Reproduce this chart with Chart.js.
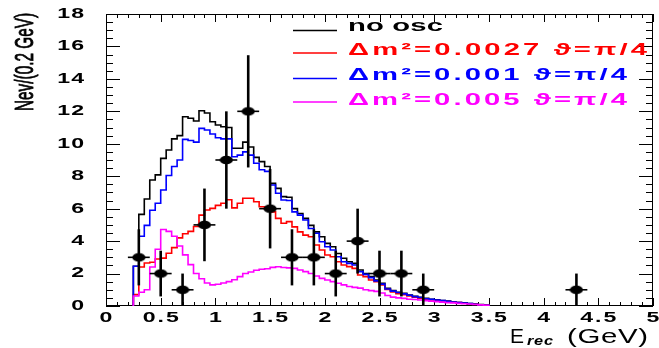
<!DOCTYPE html>
<html lang="en">
<head>
<meta charset="UTF-8">
<title>Nev vs Erec</title>
<script src="https://cdn.jsdelivr.net/npm/chart.js@4.4.1/dist/chart.umd.min.js"></script>
<style>
    body { margin: 0; padding: 0; background: #fff; }
    #wrap { width: 659px; height: 348px; position: relative; }
</style>
</head>
<body>
<div id="wrap"><canvas id="chart"></canvas></div>
<script>
// bin edges of the MC histograms (GeV)
const binEdges = [0.25, 0.30, 0.35, 0.40, 0.45, 0.50, 0.55, 0.60, 0.65, 0.70, 0.75, 0.80, 0.85,
    0.90, 0.95, 1.00, 1.05, 1.10, 1.15, 1.20, 1.25, 1.30, 1.35, 1.40, 1.45, 1.50,
    1.55, 1.60, 1.65, 1.70, 1.75, 1.80, 1.85, 1.90, 1.95, 2.00, 2.05, 2.10, 2.15,
    2.20, 2.25, 2.30, 2.35, 2.40, 2.45, 2.50, 2.55, 2.60, 2.65, 2.70, 2.75, 2.80,
    2.85, 2.90, 2.95, 3.00, 3.05, 3.10, 3.15, 3.20, 3.25, 3.30, 3.35, 3.40, 3.45, 3.50];

const noOsc = [2.45, 5.65, 6.6, 7.77, 8.08, 9.1, 9.62, 10.3, 10.5, 11.67, 11.57, 11.4, 12.04,
    11.9, 11.36, 11.16, 11.05, 11.0, 9.72, 9.72, 10.1, 9.8, 9.16, 8.9, 8.6, 7.56,
    7.25, 6.74, 6.7, 6.0, 5.7, 5.4, 4.97, 4.57, 4.27, 3.86, 3.65, 3.24, 2.94,
    2.73, 2.63, 2.22, 2.0, 1.81, 1.6, 1.4, 1.09, 0.95, 0.85, 0.78, 0.68, 0.6,
    0.54, 0.47, 0.42, 0.38, 0.34, 0.3, 0.26, 0.22, 0.19, 0.15, 0.12, 0.09, 0.06];

const osc0027 = [0.7, 2.4, 2.65, 2.7, 2.9, 2.95, 3.25, 3.6, 4.2, 4.45, 4.6, 4.9, 5.6,
    5.92, 6.02, 6.2, 6.33, 6.55, 6.05, 6.33, 6.64, 6.64, 6.43, 6.12, 6.02, 5.8,
    5.4, 5.1, 5.2, 4.88, 4.57, 4.37, 4.27, 3.76, 3.45, 3.14, 3.04, 2.73, 2.53,
    2.43, 2.32, 1.91, 1.81, 1.6, 1.5, 1.3, 1.02, 0.86, 0.76, 0.7, 0.62, 0.55,
    0.48, 0.42, 0.38, 0.34, 0.31, 0.27, 0.24, 0.21, 0.17, 0.14, 0.11, 0.08, 0.05];

const osc001 = [2.45, 4.3, 4.97, 5.9, 6.33, 7.15, 8.04, 8.6, 9.0, 10.27, 10.2, 10.1, 10.95,
    10.85, 10.6, 10.37, 10.3, 10.3, 9.2, 9.3, 9.5, 9.3, 8.8, 8.4, 8.3, 7.46,
    6.95, 6.53, 6.5, 5.8, 5.6, 5.3, 4.78, 4.48, 3.96, 3.65, 3.45, 3.04, 2.73,
    2.63, 2.53, 2.12, 1.95, 1.75, 1.55, 1.35, 1.05, 0.92, 0.83, 0.75, 0.66, 0.58,
    0.52, 0.45, 0.41, 0.37, 0.33, 0.29, 0.25, 0.22, 0.18, 0.15, 0.11, 0.08, 0.05];

const osc005 = [0.62, 0.85, 1.0, 2.4, 3.5, 4.72, 4.6, 4.3, 3.7, 3.15, 2.55, 2.0, 1.68,
    1.42, 1.3, 1.34, 1.42, 1.5, 1.62, 1.81, 2.0, 2.1, 2.2, 2.27, 2.3, 2.38,
    2.42, 2.37, 2.35, 2.32, 2.22, 2.12, 2.0, 1.85, 1.7, 1.6, 1.5, 1.4, 1.3,
    1.2, 1.15, 1.1, 1.0, 0.95, 0.9, 0.8, 0.65, 0.55, 0.5, 0.47, 0.42, 0.4,
    0.37, 0.33, 0.3, 0.27, 0.24, 0.21, 0.19, 0.16, 0.14, 0.12, 0.09, 0.07, 0.05];

// measured events with errors
const dataX    = [0.3, 0.5, 0.7, 0.9, 1.1, 1.3, 1.5, 1.7, 1.9, 2.1, 2.3, 2.5, 2.7, 2.9, 4.3];
const dataY    = [3, 2, 1, 5, 9, 12, 6, 3, 3, 2, 4, 2, 2, 1, 1];
const dataErrY = [1.73, 1.41, 1, 2.24, 3, 3.46, 2.45, 1.73, 1.73, 1.41, 2, 1.41, 1.41, 1, 1];
const dataErrX = [0.1, 0.1, 0.1, 0.1, 0.1, 0.1, 0.1, 0.1, 0.1, 0.1, 0.1, 0.1, 0.1, 0.1, 0.1];

const xTickValues = [0, 0.5, 1, 1.5, 2, 2.5, 3, 3.5, 4, 4.5, 5];
const xTickLabels = ['0', '0.5', '1', '1.5', '2', '2.5', '3', '3.5', '4', '4.5', '5'];
const yTickValues = [0, 2, 4, 6, 8, 10, 12, 14, 16, 18];

const legendLabels = ['no osc', 'Δm²=0.0027 ϑ=π/4', 'Δm²=0.001 ϑ=π/4', 'Δm²=0.005 ϑ=π/4'];
const legendColors = ['#000000', '#ff0000', '#0000ff', '#ff00ff'];

// histogram -> step points (value holds until next edge)
function histPoints(vals) {
    const pts = [{x: binEdges[0], y: 0}];
    vals.forEach((v, i) => pts.push({x: binEdges[i], y: v}));
    pts.push({x: binEdges[vals.length], y: vals[vals.length - 1]});
    pts.push({x: binEdges[vals.length], y: 0});
    return pts;
}

// filled ellipse marker like the ROOT one
const marker = document.createElement('canvas');
marker.width = 14;
marker.height = 10;
const mctx = marker.getContext('2d');
mctx.fillStyle = '#000';
mctx.beginPath();
mctx.ellipse(7, 5, 6.6, 4.3, 0, 0, 2 * Math.PI);
mctx.fill();

// text helpers (ROOT fonts are wide, so glyphs get stretched)
function drawWide(ctx, text, x, y, sx, gap, align) {
    const chars = [...text];
    const ws = chars.map(ch => ctx.measureText(ch).width * sx);
    const total = ws.reduce((s, w) => s + w, 0) + gap * (chars.length - 1);
    let cx = align === 'center' ? x - total / 2 : align === 'right' ? x - total : x;
    chars.forEach((ch, i) => {
        ctx.save();
        ctx.translate(cx, y);
        ctx.scale(sx, 1);
        ctx.fillText(ch, 0, 0);
        ctx.restore();
        cx += ws[i] + gap;
    });
}

function drawFit(ctx, text, x, y, width, sx) {
    const chars = [...text];
    const natural = chars.reduce((s, ch) => s + ctx.measureText(ch).width * sx, 0);
    const gap = (width - natural) / (chars.length - 1);
    drawWide(ctx, text, x, y, sx, gap, 'left');
}

function drawStretch(ctx, text, x, y, width, thick) {
    const sx = width / ctx.measureText(text).width;
    ctx.save();
    ctx.translate(x, y);
    ctx.scale(sx, 1);
    ctx.fillText(text, 0, 0);
    if (thick) {
        ctx.lineWidth = thick;
        ctx.strokeStyle = ctx.fillStyle;
        ctx.strokeText(text, 0, 0);
    }
    ctx.restore();
}

const frame = {
    id: 'frame',
    beforeDatasetsDraw(chart) {
        const {ctx, chartArea: a, scales: {x, y}} = chart;
        ctx.save();
        ctx.strokeStyle = '#000';
        ctx.lineWidth = 1;
        ctx.strokeRect(a.left + 0.5, a.top + 0.5, a.right - a.left - 1, a.bottom - a.top - 1);

        ctx.beginPath();
        for (let k = 0; k <= 50; k++) {
            const px = Math.round(x.getPixelForValue(k / 10)) + 0.5;
            const len = k % 5 === 0 ? 8 : 4;
            ctx.moveTo(px, a.bottom); ctx.lineTo(px, a.bottom - len);
            ctx.moveTo(px, a.top); ctx.lineTo(px, a.top + len);
        }
        for (let k = 0; k <= 36; k++) {
            const py = Math.round(y.getPixelForValue(k / 2)) + 0.5;
            const len = k % 4 === 0 ? 14 : 7;
            ctx.moveTo(a.left, py); ctx.lineTo(a.left + len, py);
            ctx.moveTo(a.right, py); ctx.lineTo(a.right - len, py);
        }
        ctx.stroke();

        // tick labels
        ctx.fillStyle = '#000';
        ctx.textAlign = 'left';
        ctx.font = 'bold 14px "Liberation Sans", Arial, sans-serif';
        ctx.textBaseline = 'alphabetic';
        xTickValues.forEach((v, i) => {
            drawWide(ctx, xTickLabels[i], x.getPixelForValue(v), a.bottom + 16, 1.65, 2, 'center');
        });
        ctx.textBaseline = 'middle';
        yTickValues.forEach(v => {
            drawWide(ctx, String(v), 84, y.getPixelForValue(v), 1.65, 1, 'right');
        });

        // y title
        ctx.textBaseline = 'alphabetic';
        ctx.font = '26px "Liberation Sans Narrow", "Liberation Sans", Arial, sans-serif';
        ctx.save();
        ctx.translate(33, 111);
        ctx.rotate(-Math.PI / 2);
        drawStretch(ctx, 'Nev/(0.2 GeV)', 0, 0, 98, 0.9);
        ctx.restore();

        // x title  E_rec (GeV)
        ctx.font = '21px "Liberation Sans", Arial, sans-serif';
        drawStretch(ctx, 'E', 510, 343, 14);
        ctx.font = 'bold italic 13px "Liberation Sans", Arial, sans-serif';
        drawFit(ctx, 'rec', 527, 345, 26, 1.25);
        ctx.font = '21px "Liberation Sans", Arial, sans-serif';
        drawFit(ctx, '(GeV)', 567, 343, 81, 1.4);

        // legend
        const rows = [31, 55, 80, 104.5];
        const lines = [30.5, 53, 78.5, 102];
        const widths = [95, 299, 279, 279];
        ctx.font = 'bold 17px "Liberation Sans", Arial, sans-serif';
        legendLabels.forEach((lab, i) => {
            ctx.strokeStyle = legendColors[i];
            ctx.lineWidth = 1.5;
            ctx.beginPath();
            ctx.moveTo(293, lines[i]);
            ctx.lineTo(337, lines[i]);
            ctx.stroke();
            ctx.fillStyle = legendColors[i];
            drawFit(ctx, lab, 348, rows[i], widths[i], 1.72);
        });
        ctx.restore();
    }
};

const errorBars = {
    id: 'errorBars',
    afterDatasetsDraw(chart) {
        const {ctx, scales: {x, y}} = chart;
        ctx.save();
        ctx.strokeStyle = '#000';
        dataX.forEach((xv, i) => {
            const px = x.getPixelForValue(xv);
            const py = y.getPixelForValue(dataY[i]);
            ctx.lineWidth = 2.6;
            ctx.beginPath();
            ctx.moveTo(px, y.getPixelForValue(Math.max(0, dataY[i] - dataErrY[i])));
            ctx.lineTo(px, y.getPixelForValue(dataY[i] + dataErrY[i]));
            ctx.stroke();
            ctx.lineWidth = 1.6;
            ctx.beginPath();
            ctx.moveTo(x.getPixelForValue(xv - dataErrX[i]), py);
            ctx.lineTo(x.getPixelForValue(xv + dataErrX[i]), py);
            ctx.stroke();
        });
        ctx.restore();
    }
};

function histDataset(vals, color, order) {
    return {
        type: 'line',
        data: histPoints(vals),
        borderColor: color,
        borderWidth: 1.6,
        pointRadius: 0,
        fill: false,
        stepped: 'before',
        order: order
    };
}

new Chart(document.getElementById('chart'), {
    data: {
        datasets: [
            {
                type: 'scatter',
                data: dataX.map((xv, i) => ({x: xv, y: dataY[i]})),
                pointStyle: marker,
                pointRadius: 5,
                order: 0
            },
            histDataset(osc005, '#ff00ff', 1),
            histDataset(osc001, '#0000ff', 2),
            histDataset(osc0027, '#ff0000', 3),
            histDataset(noOsc, '#000000', 4)
        ]
    },
    options: {
        responsive: true,
        maintainAspectRatio: false,
        animation: false,
        layout: { padding: { left: 106, top: 14, right: 4, bottom: 42 } },
        plugins: { legend: { display: false }, tooltip: { enabled: false } },
        scales: {
            x: { type: 'linear', min: 0, max: 5, display: false },
            y: { type: 'linear', min: 0, max: 18, display: false }
        }
    },
    plugins: [frame, errorBars]
});
</script>
</body>
</html>
